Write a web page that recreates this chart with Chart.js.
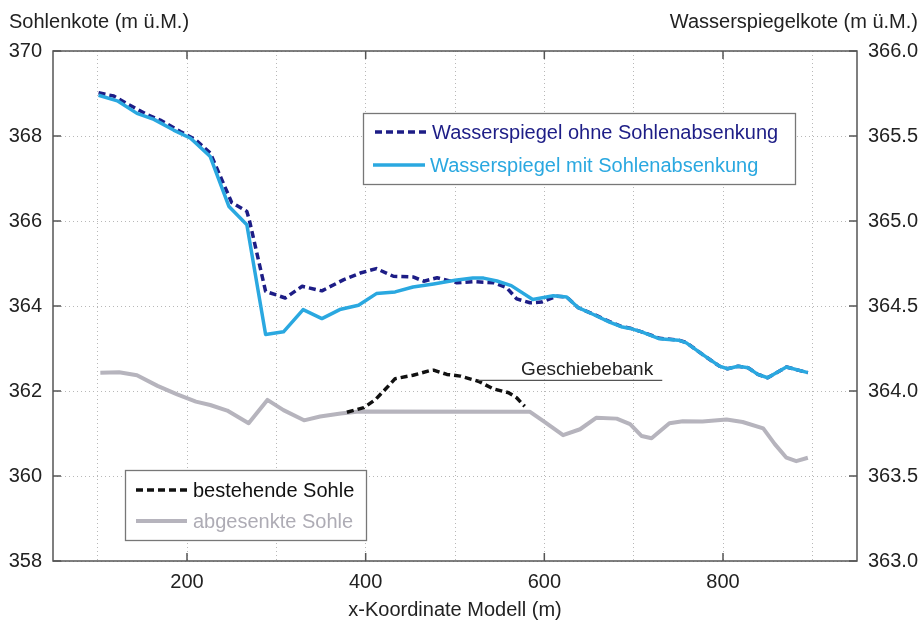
<!DOCTYPE html>
<html>
<head>
<meta charset="utf-8">
<script src="https://cdn.jsdelivr.net/npm/chart.js@4.4.1/dist/chart.umd.min.js"></script>
<style>
body { margin: 0; background: #fff; }
</style>
</head>
<body>
<canvas id="myChart" width="922" height="622"></canvas>
<script>
// Wasserspiegel (rechte Achse)
var xWsOhne = [101, 118, 133, 155, 170, 193, 209, 226, 250, 267, 270, 288, 310, 329, 351, 375, 394, 412, 431, 453, 465, 480, 502, 520, 543, 558, 569, 584, 597, 614, 625, 638, 655, 673, 686, 696, 709, 729, 750, 759, 777, 796, 805, 817, 828, 839, 850, 871, 895];
var wsOhne  = [365.754, 365.735, 365.69, 365.627, 365.594, 365.525, 365.48, 365.40, 365.109, 365.056, 365.0, 364.586, 364.547, 364.616, 364.589, 364.654, 364.694, 364.72, 364.675, 364.671, 364.646, 364.666, 364.637, 364.643, 364.637, 364.607, 364.542, 364.519, 364.523, 364.558, 364.553, 364.49, 364.452, 364.408, 364.38, 364.37, 364.348, 364.31, 364.3, 364.285, 364.215, 364.146, 364.131, 364.146, 364.137, 364.098, 364.078, 364.141, 364.108];

var xWsMit = [101, 122, 144, 163, 185, 204, 226, 247, 267, 288, 308, 330, 351, 371, 392, 412, 433, 453, 476, 500, 520, 532, 547, 563, 587, 610, 625, 638, 655, 673, 686, 696, 709, 729, 750, 759, 777, 796, 805, 817, 828, 839, 850, 871, 895];
var wsMit  = [365.74, 365.707, 365.633, 365.598, 365.535, 365.487, 365.379, 365.085, 364.978, 364.332, 364.348, 364.479, 364.426, 364.479, 364.504, 364.573, 364.583, 364.612, 364.63, 364.651, 364.665, 364.664, 364.647, 364.62, 364.538, 364.56, 364.553, 364.49, 364.45, 364.405, 364.378, 364.368, 364.348, 364.307, 364.299, 364.283, 364.215, 364.146, 364.131, 364.146, 364.137, 364.098, 364.078, 364.141, 364.108];

// Sohle (linke Achse)
var xSohleBest = [379, 398, 411, 422, 433, 453, 472, 476, 491, 506, 526, 543, 560, 569, 578];
var sohleBest  = [361.50, 361.61, 361.80, 362.04, 362.29, 362.37, 362.48, 362.49, 362.39, 362.35, 362.23, 362.05, 361.96, 361.84, 361.64];

var xSohleAbg = [103, 124, 144, 167, 189, 210, 226, 245, 269, 290, 308, 331, 349, 372, 390, 400, 584, 599, 621, 640, 658, 681, 696, 709, 720, 740, 755, 777, 804, 822, 845, 858, 871, 882, 895];
var sohleAbg  = [362.43, 362.44, 362.37, 362.12, 361.92, 361.75, 361.67, 361.54, 361.24, 361.79, 361.55, 361.31, 361.40, 361.47, 361.51, 361.52, 361.51, 361.29, 360.96, 361.10, 361.37, 361.35, 361.22, 360.94, 360.89, 361.24, 361.29, 361.28, 361.33, 361.27, 361.12, 360.75, 360.43, 360.35, 360.43];

// Achsen
var xGrid = [100, 200, 300, 400, 500, 600, 700, 800, 900];
var xTickLabels = [200, 400, 600, 800];
var leftTicks = [358, 360, 362, 364, 366, 368, 370];
var rightTicks = [363.0, 363.5, 364.0, 364.5, 365.0, 365.5, 366.0];

var FONT = '"Liberation Sans", Arial, Helvetica, sans-serif';
var NAVY = '#1d1d86';
var LIGHTBLUE = '#2aa8e0';
var GREY = '#b6b4bd';
var BLACK = '#111111';

function pts(xs, ys) {
  return xs.map(function (x, i) { return { x: x, y: ys[i] }; });
}

var extras = {
  id: 'extras',
  afterDraw: function (chart) {
    var ctx = chart.ctx, a = chart.chartArea;
    var sx = chart.scales.x, sy = chart.scales.y, sy1 = chart.scales.y1;
    ctx.save();

    // Rahmen
    ctx.setLineDash([]);
    ctx.strokeStyle = '#555';
    ctx.lineWidth = 1.5;
    ctx.strokeRect(a.left, a.top, a.right - a.left, a.bottom - a.top);

    // Ticks nach innen
    ctx.beginPath();
    xTickLabels.forEach(function (v) {
      var p = sx.getPixelForValue(v);
      ctx.moveTo(p, a.bottom); ctx.lineTo(p, a.bottom - 8);
      ctx.moveTo(p, a.top); ctx.lineTo(p, a.top + 8);
    });
    leftTicks.forEach(function (v) {
      var p = sy.getPixelForValue(v);
      ctx.moveTo(a.left, p); ctx.lineTo(a.left + 8, p);
    });
    rightTicks.forEach(function (v) {
      var p = sy1.getPixelForValue(v);
      ctx.moveTo(a.right, p); ctx.lineTo(a.right - 8, p);
    });
    ctx.stroke();

    // Achsentitel
    ctx.fillStyle = '#222';
    ctx.font = '20px ' + FONT;
    ctx.textBaseline = 'alphabetic';
    ctx.textAlign = 'left';
    ctx.fillText('Sohlenkote (m ü.M.)', 9, 28);
    ctx.textAlign = 'right';
    ctx.fillText('Wasserspiegelkote (m ü.M.)', 918, 28);
    ctx.textAlign = 'center';
    ctx.fillText('x-Koordinate Modell (m)', (a.left + a.right) / 2, 616);

    // Geschiebebank
    var gx0 = sx.getPixelForValue(526), gx1 = sx.getPixelForValue(732);
    var gy = sy.getPixelForValue(362.25);
    ctx.strokeStyle = '#555';
    ctx.lineWidth = 1.2;
    ctx.beginPath(); ctx.moveTo(gx0, gy); ctx.lineTo(gx1, gy); ctx.stroke();
    ctx.font = '19px ' + FONT;
    ctx.textAlign = 'left';
    ctx.fillStyle = '#222';
    ctx.fillText('Geschiebebank', sx.getPixelForValue(574), sy.getPixelForValue(362.37));

    // Legenden
    function box(x, y, w, h) {
      ctx.setLineDash([]);
      ctx.fillStyle = '#fff';
      ctx.fillRect(x, y, w, h);
      ctx.strokeStyle = '#777';
      ctx.lineWidth = 1.3;
      ctx.strokeRect(x, y, w, h);
    }
    function entry(x0, x1, y, color, width, dash, label, tx, tcolor) {
      ctx.setLineDash(dash);
      ctx.strokeStyle = color;
      ctx.lineWidth = width;
      ctx.beginPath(); ctx.moveTo(x0, y); ctx.lineTo(x1, y); ctx.stroke();
      ctx.setLineDash([]);
      ctx.fillStyle = tcolor;
      ctx.font = '20px ' + FONT;
      ctx.textAlign = 'left';
      ctx.textBaseline = 'middle';
      ctx.fillText(label, tx, y + 1);
    }
    box(363.5, 113.5, 432, 71);
    entry(375, 427, 132, NAVY, 3.5, [7, 4], 'Wasserspiegel ohne Sohlenabsenkung', 432, NAVY);
    entry(373, 425, 165, LIGHTBLUE, 3.5, [], 'Wasserspiegel mit Sohlenabsenkung', 430, LIGHTBLUE);

    box(125.5, 470.5, 241, 70);
    entry(136, 187, 490, BLACK, 3.5, [7, 4], 'bestehende Sohle', 193, '#111');
    entry(136, 187, 521, GREY, 4, [], 'abgesenkte Sohle', 193, '#aeacb5');

    ctx.restore();
  }
};

function drawChart() {
  var ctx = document.getElementById('myChart').getContext('2d');
  new Chart(ctx, {
    type: 'line',
    data: {
      datasets: [
        { label: 'Wasserspiegel mit Sohlenabsenkung', data: pts(xWsMit, wsMit), yAxisID: 'y1',
          borderColor: LIGHTBLUE, borderWidth: 3.5 },
        { label: 'Wasserspiegel ohne Sohlenabsenkung', data: pts(xWsOhne, wsOhne), yAxisID: 'y1',
          borderColor: NAVY, borderWidth: 3.5, borderDash: [7, 4] },
        { label: 'bestehende Sohle', data: pts(xSohleBest, sohleBest), yAxisID: 'y',
          borderColor: BLACK, borderWidth: 3.5, borderDash: [7, 4] },
        { label: 'abgesenkte Sohle', data: pts(xSohleAbg, sohleAbg), yAxisID: 'y',
          borderColor: GREY, borderWidth: 4 }
      ]
    },
    options: {
      responsive: false,
      animation: false,
      devicePixelRatio: 1,
      layout: { padding: { top: 51, left: 0, right: 0, bottom: 0 } },
      elements: { point: { radius: 0 }, line: { tension: 0, borderJoinStyle: 'round', borderCapStyle: 'butt' } },
      plugins: { legend: { display: false }, tooltip: { enabled: false } },
      scales: {
        x: {
          type: 'linear', min: 50, max: 950,
          afterBuildTicks: function (s) { s.ticks = xGrid.map(function (v) { return { value: v }; }); },
          afterFit: function (s) { s.height = 61; },
          border: { display: false, dash: [1, 3] },
          grid: { color: '#b8b8b8', lineWidth: 1, drawTicks: false },
          ticks: {
            autoSkip: false, maxRotation: 0, padding: 9,
            color: '#222', font: { size: 20, family: FONT },
            callback: function (v) { return xTickLabels.indexOf(v) >= 0 ? String(v) : ''; }
          }
        },
        y: {
          position: 'left', min: 358, max: 370,
          afterFit: function (s) { s.width = 53; },
          border: { display: false, dash: [1, 3] },
          grid: { color: '#b8b8b8', lineWidth: 1, drawTicks: false },
          ticks: { stepSize: 2, padding: 11, color: '#222', font: { size: 20, family: FONT } }
        },
        y1: {
          position: 'right', min: 363, max: 366,
          afterFit: function (s) { s.width = 65; },
          border: { display: false },
          grid: { drawOnChartArea: false, drawTicks: false },
          ticks: {
            stepSize: 0.5, padding: 11, color: '#222', font: { size: 20, family: FONT },
            callback: function (v) { return rightTicks.indexOf(v) >= 0 ? v.toFixed(1) : ''; }
          }
        }
      }
    },
    plugins: [extras]
  });
}

document.addEventListener('DOMContentLoaded', drawChart);
</script>
</body>
</html>
